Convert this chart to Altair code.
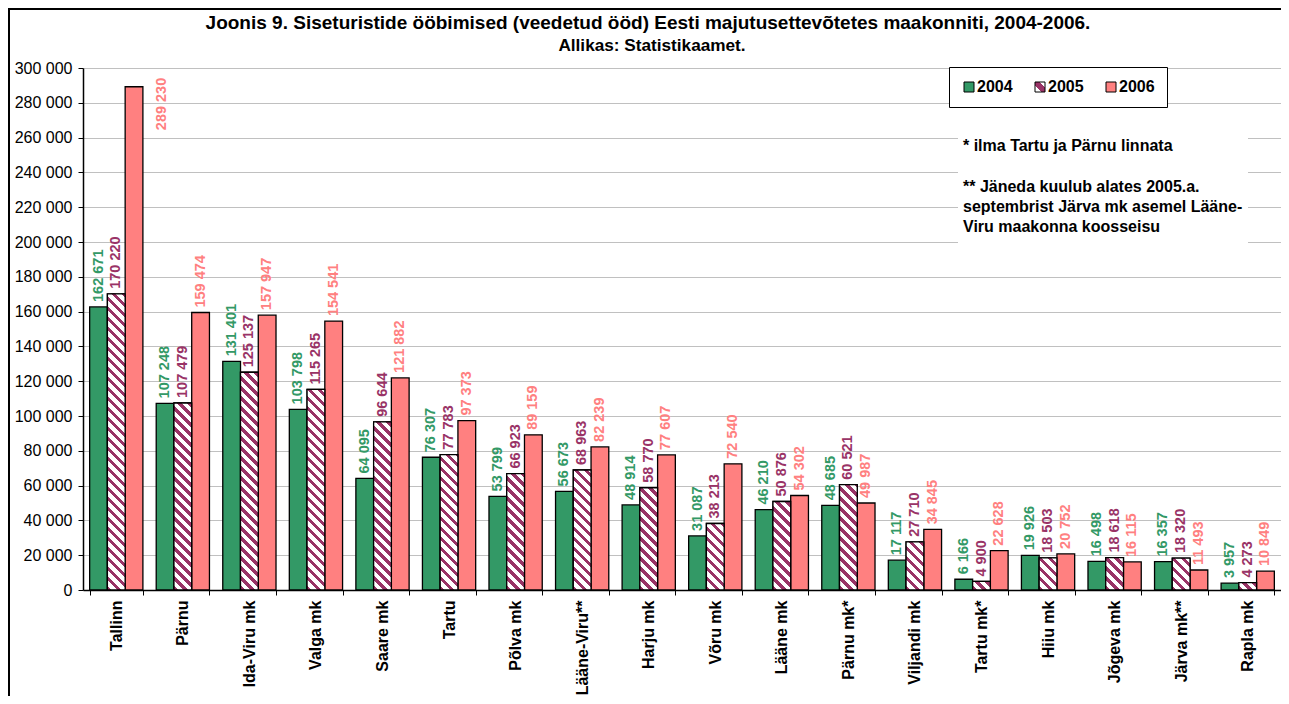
import math
import altair as alt
import pandas as pd

# ---------------- data ----------------
regions = ["Tallinn", "Pärnu", "Ida-Viru mk", "Valga mk", "Saare mk", "Tartu",
           "Põlva mk", "Lääne-Viru**", "Harju mk", "Võru mk", "Lääne mk",
           "Pärnu mk*", "Viljandi mk", "Tartu mk*", "Hiiu mk", "Jõgeva mk",
           "Järva mk**", "Rapla mk"]
years = ["2004", "2005", "2006"]
v2004 = [162671, 107248, 131401, 103798, 64095, 76307, 53799, 56673, 48914,
         31087, 46210, 48685, 17117, 6166, 19926, 16498, 16357, 3957]
v2005 = [170220, 107479, 125137, 115265, 96644, 77783, 66923, 68963, 58770,
         38213, 50876, 60521, 27710, 4900, 18503, 18618, 18320, 4273]
v2006 = [289230, 159474, 157947, 154541, 121882, 97373, 89159, 82239, 77607,
         72540, 54302, 49987, 34845, 22628, 20752, 16115, 11493, 10849]
y_ticks = list(range(0, 300001, 20000))

title_text = "Joonis 9. Siseturistide ööbimised (veedetud ööd) Eesti majutusettevõtetes maakonniti, 2004-2006."
subtitle_text = "Allikas: Statistikaamet."
note1 = "* ilma Tartu ja Pärnu linnata"
note2 = ["** Jäneda kuulub alates 2005.a.",
         "septembrist Järva mk asemel Lääne-",
         "Viru maakonna koosseisu"]

# ---------------- style / layout ----------------
FONT = "Liberation Sans"
GREEN = "#339966"
PURPLE = "#993366"
SALMON = "#FF8080"
W, H = 1198, 522
YMAX = 300000
P_INNER, P_OUTER = 0.2, 0.1
STEP = W / (len(regions) - P_INNER + 2 * P_OUTER)
BAR_W = STEP * (1 - P_INNER) / 3

series = {"2004": v2004, "2005": v2005, "2006": v2006}
rows = []
for i, r in enumerate(regions):
    for y in years:
        rows.append({"region": r, "year": y, "value": series[y][i]})
df = pd.DataFrame(rows)


def hatch(value):
    """Diagonal stripe gradient for one 2005 bar (pixel-consistent stripes)."""
    w = BAR_W
    h = max(value / YMAX * H, 0.5)
    L = w + h
    k = L / (w * w + h * h)
    period = 10.0
    stops = []
    i = 0
    while i * period / L < 1:
        a = i * period / L
        b = min((i + 0.45) * period / L, 1)
        c = min((i + 1) * period / L, 1)
        stops += [{"offset": a, "color": PURPLE}, {"offset": b, "color": PURPLE},
                  {"offset": b, "color": "#ffffff"}, {"offset": c, "color": "#ffffff"}]
        i += 1
    return {"gradient": "linear", "x1": 0, "y1": 1, "x2": k * w, "y2": 1 - k * h,
            "stops": stops}


hatch_rows = [{"region": r, "year": "2005", "value": v, "grad": hatch(v)}
              for r, v in zip(regions, v2005)]

legend_grad = ("{gradient: 'linear', x1: 0, y1: 1, x2: 1, y2: 0, stops: ["
               "{offset: 0, color: '#ffffff'}, {offset: 0.3, color: '#ffffff'},"
               "{offset: 0.3, color: '" + PURPLE + "'}, {offset: 0.7, color: '" + PURPLE + "'},"
               "{offset: 0.7, color: '#ffffff'}, {offset: 1, color: '#ffffff'}]}")

label_expr = ("datum.value >= 1000 ? floor(datum.value / 1000) + ' ' + "
              "format(datum.value % 1000, '03d') : '' + datum.value")

x_enc = alt.X("region:N", sort=regions,
              scale=alt.Scale(paddingInner=P_INNER, paddingOuter=P_OUTER),
              axis=alt.Axis(title=None, labelAngle=270, labelFont=FONT,
                            labelFontSize=16, labelFontWeight="bold",
                            labelColor="black", tickBand="extent", tickSize=5,
                            tickColor="black", domainColor="black",
                            domainWidth=1.5, labelPadding=5, grid=False))
xoff_enc = alt.XOffset("year:N", scale=alt.Scale(domain=years, paddingInner=0,
                                                  paddingOuter=0))
y_enc = alt.Y("value:Q", scale=alt.Scale(domain=[0, YMAX], nice=False),
              axis=alt.Axis(title=None, values=y_ticks,
                            labelExpr=("datum.value >= 1000 ? floor(datum.value / 1000) + ' ' + "
                                       "format(datum.value % 1000, '03d') : '0'"),
                            labelFont=FONT, labelFontSize=16, labelColor="black",
                            tickColor="black", tickSize=5, domainColor="black",
                            domainWidth=1.5, gridColor="#C0C0C0", gridWidth=1,
                            labelPadding=6))

base = alt.Chart(df)

bars = base.mark_bar(stroke="black", strokeWidth=1.3).encode(
    x=x_enc, xOffset=xoff_enc, y=y_enc,
    fill=alt.Fill("year:N",
                  scale=alt.Scale(domain=years,
                                  range=[GREEN, alt.ExprRef(expr=legend_grad), SALMON]),
                  legend=alt.Legend(title=None, orient="none", legendX=866, legendY=-1,
                                    direction="horizontal", symbolType="square",
                                    symbolSize=100, symbolStrokeColor="black",
                                    symbolStrokeWidth=1, symbolOpacity=1,
                                    labelFont=FONT, labelFontSize=16,
                                    labelFontWeight="bold", labelColor="black",
                                    labelOffset=0, columnPadding=19, padding=12,
                                    strokeColor="black", fillColor="white")),
)

hatch_bars = alt.Chart(alt.Data(values=hatch_rows)).mark_bar(
    stroke="black", strokeWidth=1.3).encode(
    x=x_enc, xOffset=xoff_enc, y=y_enc,
    fill=alt.Fill("grad:N", scale=None, legend=None),
)

txt_color = alt.Color("year:N", scale=alt.Scale(domain=years,
                                                range=[GREEN, PURPLE, SALMON]),
                      legend=None)

labels = base.transform_filter("datum.value < 280000").transform_calculate(
    label=label_expr).mark_text(angle=270, align="left", baseline="middle", dx=5,
                                font=FONT, fontSize=14.5, fontWeight="bold").encode(
    x=x_enc, xOffset=xoff_enc, y=y_enc, text="label:N", color=txt_color)

labels_top = base.transform_filter("datum.value >= 280000").transform_calculate(
    label=label_expr).mark_text(angle=270, align="right", baseline="middle",
                                dx=9, dy=28, font=FONT, fontSize=14.5,
                                fontWeight="bold").encode(
    x=x_enc, xOffset=xoff_enc, y=y_enc, text="label:N", color=txt_color)

one = pd.DataFrame({"k": [0]})

border_left = alt.Chart(one).mark_rule(stroke="black", strokeWidth=2).encode(
    x=alt.value(-74), y=alt.value(-59), y2=alt.value(H + 200))
border_top = alt.Chart(one).mark_rule(stroke="black", strokeWidth=2).encode(
    x=alt.value(-75), x2=alt.value(W + 50), y=alt.value(-59))

note_box = alt.Chart(one).mark_rect(fill="white").encode(
    x=alt.value(875), x2=alt.value(1165), y=alt.value(57), y2=alt.value(179))

note1_t = alt.Chart(one).mark_text(text=note1, align="left", baseline="middle",
                                   font=FONT, fontSize=16, fontWeight="bold",
                                   color="black").encode(
    x=alt.value(880), y=alt.value(78))

note2_t = alt.Chart(one).mark_text(text=note2, align="left", baseline="middle",
                                   lineHeight=20, font=FONT, fontSize=16,
                                   fontWeight="bold", color="black").encode(
    x=alt.value(880), y=alt.value(118.7))

title_t = alt.Chart(one).mark_text(text=title_text, align="center",
                                   baseline="middle", font=FONT, fontSize=19,
                                   fontWeight="bold", color="black").encode(
    x=alt.value(565), y=alt.value(-45))

subtitle_t = alt.Chart(one).mark_text(text=subtitle_text, align="center",
                                      baseline="middle", font=FONT, fontSize=17.2,
                                      fontWeight="bold", color="black").encode(
    x=alt.value(569), y=alt.value(-22.5))

chart = alt.layer(
    border_left, border_top, bars, hatch_bars, labels, labels_top, note_box,
    note1_t, note2_t, title_t, subtitle_t
).properties(
    width=W, height=H,
    autosize=alt.AutoSizeParams(type="none"),
    padding={"left": 75, "top": 60, "right": 0, "bottom": 106},
    background="white",
).configure_view(stroke="transparent")

chart.save("out.html", embed_options={"renderer": "svg", "actions": False})
